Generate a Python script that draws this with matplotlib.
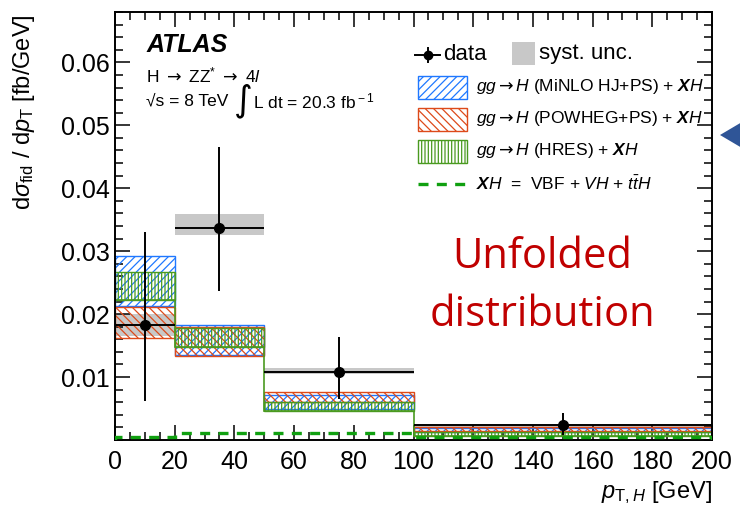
import matplotlib.pyplot as plt
import numpy as np
from matplotlib.patches import Rectangle, Polygon
from matplotlib.lines import Line2D
from matplotlib.ticker import FixedLocator, MultipleLocator

plt.rcParams['font.family'] = ['Liberation Sans', 'DejaVu Sans']
plt.rcParams['mathtext.fontset'] = 'custom'
plt.rcParams['mathtext.rm'] = 'Liberation Sans'
plt.rcParams['mathtext.it'] = 'Liberation Sans:italic'
plt.rcParams['mathtext.bf'] = 'Liberation Sans:bold'
plt.rcParams['mathtext.bfit'] = 'Liberation Sans:italic:bold'
plt.rcParams['mathtext.sf'] = 'DejaVu Sans'
plt.rcParams['hatch.linewidth'] = 0.9

# bins in pT,H [GeV]
edges = np.array([0, 20, 50, 100, 200])

# unfolded data
data_y = np.array([0.0182, 0.0337, 0.0108, 0.0024])
data_hi = np.array([0.0331, 0.0465, 0.0163, 0.0043])
data_lo = np.array([0.0062, 0.0237, 0.0065, 0.0008])
syst_lo = np.array([0.0165, 0.0325, 0.0105, 0.0021])
syst_hi = np.array([0.0200, 0.0359, 0.0115, 0.0026])

# predictions (band low / high)
minlo_lo = np.array([0.0213, 0.0135, 0.0050, 0.0013])
minlo_hi = np.array([0.0293, 0.0183, 0.0072, 0.0019])
powheg_lo = np.array([0.0162, 0.0134, 0.0060, 0.0014])
powheg_hi = np.array([0.0211, 0.0180, 0.0076, 0.0020])
hres_lo = np.array([0.0223, 0.0147, 0.0046, 0.0007])
hres_hi = np.array([0.0267, 0.0178, 0.0061, 0.0012])
xh = np.array([0.0004, 0.0011, 0.0011, 0.0004])

BLUE = '#1f78ff'
ORANGE = '#dd4a1a'
GREEN = '#4a9a20'
DGREEN = '#10a010'
GREY = '#c8c8c8'

W, H = 740, 517
fig = plt.figure(figsize=(W / 100, H / 100), dpi=100)
ax = fig.add_axes([115 / W, 1 - 440 / H, 597 / W, 428 / H])

left = edges[:-1]
width = np.diff(edges)
centers = left + width / 2

ax.bar(left, syst_hi - syst_lo, width, bottom=syst_lo, align='edge',
       color=GREY, lw=0, zorder=1)
ax.bar(left, minlo_hi - minlo_lo, width, bottom=minlo_lo, align='edge',
       fill=False, hatch='////', edgecolor=BLUE, lw=1, zorder=2)
ax.bar(left, powheg_hi - powheg_lo, width, bottom=powheg_lo, align='edge',
       fill=False, hatch='\\\\\\\\', edgecolor=ORANGE, lw=1, zorder=2)
ax.bar(left, hres_hi - hres_lo, width, bottom=hres_lo, align='edge',
       fill=False, hatch='|||||', edgecolor=GREEN, lw=1, zorder=2)
ax.stairs(hres_lo, edges, color=GREEN, lw=1.2, zorder=2)
ax.stairs(xh, edges, color=DGREEN, lw=2.4, ls=(0, (3, 2.5)), zorder=3)

ax.errorbar(centers, data_y, xerr=width / 2,
            yerr=[data_y - data_lo, data_hi - data_y],
            fmt='o', color='black', ms=7, lw=1.4, capsize=0, zorder=4)

ax.set_xlim(0, 200)
ax.set_ylim(0, 0.068)
ax.xaxis.set_major_locator(MultipleLocator(20))
ax.xaxis.set_minor_locator(MultipleLocator(5))
ax.yaxis.set_major_locator(FixedLocator([0.01, 0.02, 0.03, 0.04, 0.05, 0.06]))
ax.yaxis.set_minor_locator(MultipleLocator(0.002))
ax.set_yticklabels(['0.01', '0.02', '0.03', '0.04', '0.05', '0.06'])
ax.tick_params(which='both', direction='in', top=True, right=True,
               labelsize=18, width=1.1)
ax.tick_params(which='major', length=11)
ax.tick_params(which='minor', length=5.5)
ax.tick_params(axis='x', pad=7)
for s in ax.spines.values():
    s.set_linewidth(1.4)

ax.set_ylabel(r'd$\sigma_{\rm fid}$ / d$p_{\rm T}$ [fb/GeV]', fontsize=17)
ax.yaxis.set_label_coords(-0.13, 0.766)
ax.set_xlabel(r'$p_{{\rm T},H}$ [GeV]', fontsize=17, loc='right')


def fx(px):
    return px / W


def fy(py):
    return 1 - py / H


ARR = r'\mathsf{\rightarrow}'

fig.text(fx(147), fy(45), 'ATLAS', fontsize=18, fontweight='bold',
         fontstyle='italic', va='center')
fig.text(fx(146), fy(75), r'H $' + ARR + r'$ ZZ$^{*}$ $' + ARR + r'$ 4$l$',
         fontsize=12.5, va='center')
fig.text(fx(146), fy(101), '√s = 8 TeV', fontsize=12.5, va='center')
fig.text(fx(243), fy(101), '∫', fontsize=26, va='center', ha='center',
         family=['DejaVu Sans'])
fig.text(fx(253), fy(101), r'L dt = 20.3 fb$^{\rm -1}$', fontsize=12.5,
         va='center')

# legend, drawn by hand
fig.add_artist(Line2D([fx(415), fx(440)], [fy(55), fy(55)], color='black', lw=1.4))
fig.add_artist(Line2D([fx(428), fx(428)], [fy(48), fy(62)], color='black', lw=1.4))
fig.add_artist(Line2D([fx(428)], [fy(55)], marker='o', color='black', ms=6))
fig.text(fx(443), fy(55), 'data', fontsize=16, va='center')
fig.add_artist(Rectangle((fx(512), fy(65)), fx(23), 23 / H, color=GREY, lw=0))
fig.text(fx(539), fy(53), 'syst. unc.', fontsize=16, va='center')

GGH = r'$gg' + ARR + r'H$'
entries = [
    (BLUE, '////', 87, GGH + r' (MiNLO HJ+PS) + $\mathbfit{X}H$'),
    (ORANGE, '\\\\\\\\', 119, GGH + r' (POWHEG+PS) + $\mathbfit{X}H$'),
    (GREEN, '|||||', 151, GGH + r' (HRES) + $\mathbfit{X}H$'),
]
for col, hatch, yc, lab in entries:
    fig.add_artist(Rectangle((fx(418), fy(yc + 11.5)), fx(49), 23 / H,
                             fill=False, hatch=hatch, edgecolor=col, lw=1))
    fig.text(fx(476), fy(yc), lab, fontsize=12.5, va='center')
fig.add_artist(Line2D([fx(418), fx(467)], [fy(184), fy(184)], color=DGREEN,
                      lw=2.4, ls=(0, (3, 2.5))))
fig.text(fx(476), fy(184), r'$\mathbfit{X}H$  =  VBF + $VH$ + $t\bar{t}H$',
         fontsize=12.5, va='center')

fig.text(fx(542), fy(257), 'Unfolded', fontsize=30, color='#c00000',
         family='Open Sans', ha='center', va='center')
fig.text(fx(542), fy(315), 'distribution', fontsize=30, color='#c00000',
         family='Open Sans', ha='center', va='center')

fig.add_artist(Polygon([(fx(720), fy(135)), (fx(742), fy(122)), (fx(742), fy(148))],
                       closed=True, color='#2f5597', lw=0))

fig.savefig('out.png', dpi=100)
